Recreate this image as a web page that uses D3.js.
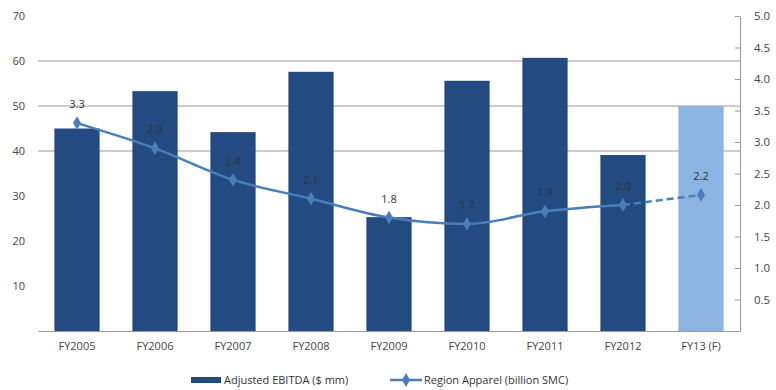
<!DOCTYPE html>
<html>
<head>
<meta charset="utf-8">
<script src="https://cdn.jsdelivr.net/npm/d3@7"></script>
<style>
  body { margin: 0; background: #fff; }
  text { font-family: "Open Sans", "Liberation Sans", sans-serif; }
</style>
</head>
<body>
<div class="chart"></div>
<script>
const categories = ["FY2005", "FY2006", "FY2007", "FY2008", "FY2009", "FY2010", "FY2011", "FY2012", "FY13 (F)"];
const ebitda = [45, 53.3, 44.2, 57.6, 25.3, 55.6, 60.7, 39.1, 50];
const apparel = [3.3, 2.9, 2.4, 2.1, 1.8, 1.7, 1.9, 2.0, 2.16];
const forecast = [false, false, false, false, false, false, false, false, true];
const leftTicks = [10, 20, 30, 40, 50, 60, 70];
const gridTicks = [40, 50, 60];
const rightTicks = [0.5, 1.0, 1.5, 2.0, 2.5, 3.0, 3.5, 4.0, 4.5, 5.0];

const width = 776, height = 390;
const margin = { top: 16, right: 36, bottom: 59, left: 38 };

const svg = d3.select(".chart").append("svg")
  .attr("width", width)
  .attr("height", height);

const x = d3.scaleBand()
  .domain(categories)
  .range([margin.left, width - margin.right])
  .paddingInner(0.42)
  .paddingOuter(0.21);

const yL = d3.scaleLinear().domain([0, 70]).range([height - margin.bottom, margin.top]);
const yR = d3.scaleLinear().domain([0, 5]).range([height - margin.bottom, margin.top]);

// gridlines
svg.append("g")
  .selectAll("line")
  .data(gridTicks)
  .enter().append("line")
  .attr("x1", margin.left)
  .attr("x2", width - margin.right)
  .attr("y1", d => yL(d))
  .attr("y2", d => yL(d))
  .attr("stroke", "#9a9a9a")
  .attr("stroke-width", 1.2);

// bars
svg.append("g")
  .selectAll("rect")
  .data(categories)
  .enter().append("rect")
  .attr("x", d => x(d))
  .attr("width", x.bandwidth())
  .attr("y", (d, i) => yL(ebitda[i]))
  .attr("height", (d, i) => yL(0) - yL(ebitda[i]))
  .attr("fill", (d, i) => forecast[i] ? "#8db3e2" : "#234b81");

// left axis (labels only)
const leftAxis = svg.append("g")
  .attr("transform", "translate(" + (margin.left - 10) + ",0)")
  .call(d3.axisLeft(yL).tickValues(leftTicks).tickSize(0).tickFormat(d3.format("d")));
leftAxis.select(".domain").remove();
leftAxis.selectAll("text").attr("font-size", 11).attr("fill", "#444");

// right axis
const rightAxis = svg.append("g")
  .attr("transform", "translate(" + (width - margin.right) + ",0)")
  .call(d3.axisRight(yR).tickValues(rightTicks).tickSizeInner(-5).tickSizeOuter(0).tickPadding(14).tickFormat(d3.format(".1f")));
rightAxis.select(".domain").attr("stroke", "#9a9a9a");
rightAxis.selectAll(".tick line").attr("stroke", "#9a9a9a");
rightAxis.selectAll("text").attr("font-size", 11.5).attr("fill", "#444");

// bottom axis
const bottomAxis = svg.append("g")
  .attr("transform", "translate(0," + yL(0) + ")")
  .call(d3.axisBottom(x).tickSize(0).tickPadding(11));
bottomAxis.select(".domain").attr("stroke", "#9a9a9a").attr("stroke-width", 1.2);
bottomAxis.selectAll("text").attr("font-size", 11).attr("fill", "#444");

// line series
const pts = categories.map((c, i) => ({ x: x(c) + x.bandwidth() / 2, y: yR(apparel[i]), v: apparel[i], f: forecast[i] }));
const line = d3.line().x(d => d.x).y(d => d.y).curve(d3.curveMonotoneX);
const lastActual = forecast.indexOf(true) - 1;

svg.append("path")
  .datum(pts.slice(0, lastActual + 1))
  .attr("d", line)
  .attr("fill", "none")
  .attr("stroke", "#4a7ebb")
  .attr("stroke-width", 2.5);

svg.append("path")
  .datum(pts.slice(lastActual))
  .attr("d", line)
  .attr("fill", "none")
  .attr("stroke", "#4a7ebb")
  .attr("stroke-width", 2.5)
  .attr("stroke-dasharray", "7,4");

const diamond = d3.symbol().type(d3.symbolDiamond).size(55);
svg.append("g")
  .selectAll("path")
  .data(pts)
  .enter().append("path")
  .attr("d", diamond)
  .attr("transform", d => "translate(" + d.x + "," + d.y + ")")
  .attr("fill", "#4a7ebb");

svg.append("g")
  .selectAll("text")
  .data(pts)
  .enter().append("text")
  .attr("x", d => d.x)
  .attr("y", d => d.y - 15)
  .attr("text-anchor", "middle")
  .attr("font-size", 11)
  .attr("fill", "#333")
  .text(d => d3.format(".1f")(d.v));

// legend
const legend = svg.append("g").attr("transform", "translate(0,380)");
legend.append("rect")
  .attr("x", 191).attr("y", -3)
  .attr("width", 30).attr("height", 6)
  .attr("fill", "#234b81");
legend.append("text")
  .attr("x", 224).attr("y", 4)
  .attr("font-size", 11).attr("fill", "#333")
  .text("Adjusted EBITDA ($ mm)");
legend.append("line")
  .attr("x1", 390).attr("x2", 422).attr("y1", 0).attr("y2", 0)
  .attr("stroke", "#4a7ebb").attr("stroke-width", 2.5);
legend.append("path")
  .attr("d", diamond)
  .attr("transform", "translate(406,0)")
  .attr("fill", "#4a7ebb");
legend.append("text")
  .attr("x", 424).attr("y", 4)
  .attr("font-size", 11).attr("fill", "#333")
  .text("Region Apparel (billion SMC)");
</script>
</body>
</html>
